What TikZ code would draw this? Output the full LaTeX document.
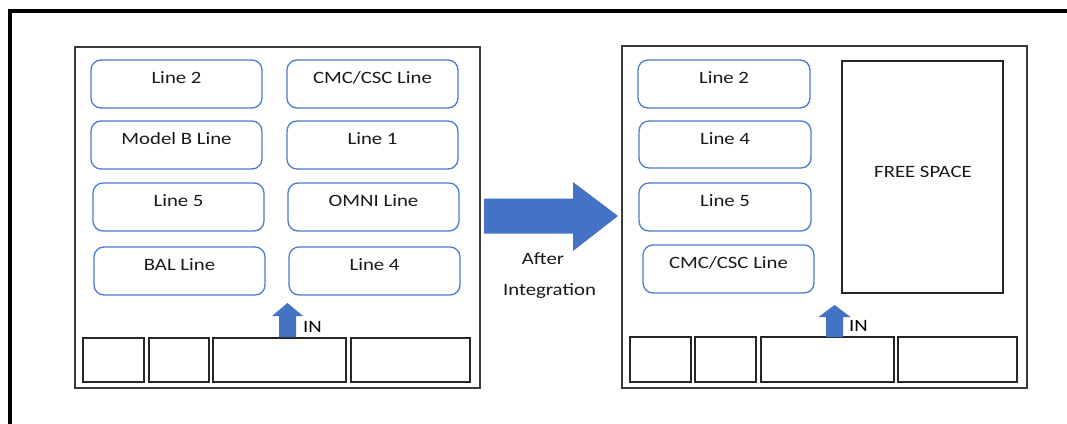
\documentclass[tikz,border=0pt]{standalone}
\usepackage{fontspec}
\newfontfamily\dfont[FakeStretch=1.2]{Carlito}
\usetikzlibrary{calc}
\definecolor{boxblue}{HTML}{4A7BD0}
\definecolor{arrowblue}{HTML}{4472C4}
\definecolor{panelgray}{HTML}{3A3A3A}
\begin{document}
\begin{tikzpicture}[x=1pt,y=-1pt,
  font={\dfont\fontsize{17.3pt}{20pt}\selectfont},
  linebox/.style={draw=boxblue, line width=1.3pt, rounded corners=10pt,
    minimum width=171pt, minimum height=48pt, inner sep=0pt},
  panelbox/.style={draw=panelgray, line width=1.5pt, inner sep=0pt},
  slotbox/.style={draw=black!85, line width=1.5pt, inner sep=0pt, minimum height=44pt},
  lbl/.style={anchor=base, inner sep=0pt, text=black!90},
  blockarrow/.style={fill=arrowblue, draw=none}]
\useasboundingbox (0,0) rectangle (1067,423);
\clip (0,0) rectangle (1067,423);
\fill[white] (0,0) rectangle (1067,423);
% outer frame
\draw[line width=4pt] (9.5,440) -- (9.5,11) -- (1090,11);

% panels
\node[panelbox, minimum width=405pt, minimum height=341pt] (pl) at (277.5,217.5) {};
\node[panelbox, minimum width=405pt, minimum height=342pt] (pr) at (824.5,217) {};

% left panel boxes
\node[linebox] (a1) at (176.5,84) {};
\node[linebox] (a2) at (372.5,84) {};
\node[linebox] (a3) at (176.5,145) {};
\node[linebox] (a4) at (372.5,145) {};
\node[linebox] (a5) at (178.5,207) {};
\node[linebox] (a6) at (373.5,207) {};
\node[linebox] (a7) at (179.5,271) {};
\node[linebox] (a8) at (374.5,271) {};
\node[lbl] (ta1) at ($(a1.north)+(0,24.5)$) {Line 2};
\node[lbl] (ta2) at ($(a2.north)+(0,24.5)$) {CMC/CSC Line};
\node[lbl] (ta3) at ($(a3.north)+(0,24.5)$) {Model B Line};
\node[lbl] (ta4) at ($(a4.north)+(0,24.5)$) {Line 1};
\node[lbl] (ta5) at ($(a5.north)+(0,24.5)$) {Line 5};
\node[lbl] (ta6) at ($(a6.north)+(0,24.5)$) {OMNI Line};
\node[lbl] (ta7) at ($(a7.north)+(0,24.5)$) {BAL Line};
\node[lbl] (ta8) at ($(a8.north)+(0,24.5)$) {Line 4};

% left slots
\node[slotbox, minimum width=61pt] (s1) at (113.5,360) {};
\node[slotbox, minimum width=60pt] (s2) at (179,360) {};
\node[slotbox, minimum width=133pt] (s3) at (279.5,360) {};
\node[slotbox, minimum width=119pt] (s4) at (410.5,360) {};

% left IN arrow
\coordinate (inl) at (287.5,337);
\fill[blockarrow] ($(inl)+(-8.5,0)$) -- ++(0,-21) -- ($(inl)+(-15.5,-21)$) -- ($(inl)+(0,-34)$)
  -- ($(inl)+(15.5,-21)$) -- ($(inl)+(8.5,-21)$) -- ($(inl)+(8.5,0)$) -- cycle;
\node[anchor=base west, inner sep=0pt] (inlt) at (303,332) {IN};

% right panel boxes
\node[linebox, minimum width=172pt] (b1) at (724,84) {};
\node[linebox, minimum width=172pt, minimum height=47pt] (b2) at (725,144.5) {};
\node[linebox, minimum width=172pt] (b3) at (725,207) {};
\node[linebox] (b4) at (728.5,269) {};
\node[lbl] (tb1) at ($(b1.north)+(0,24)$) {Line 2};
\node[lbl] (tb2) at ($(b2.north)+(0,24)$) {Line 4};
\node[lbl] (tb3) at ($(b3.north)+(0,24)$) {Line 5};
\node[lbl] (tb4) at ($(b4.north)+(0,24)$) {CMC/CSC Line};
\node[panelbox, draw=black!85, minimum width=161pt, minimum height=232pt] (free) at (922.5,177) {};
\node[lbl] (tfree) at (923,177) {FREE SPACE};

% right slots
\node[slotbox, minimum width=61pt, minimum height=45pt] (r1) at (660.5,359.5) {};
\node[slotbox, minimum width=61pt, minimum height=45pt] (r2) at (725.5,359.5) {};
\node[slotbox, minimum width=133pt, minimum height=45pt] (r3) at (827.5,359.5) {};
\node[slotbox, minimum width=119pt, minimum height=45pt] (r4) at (957.5,359.5) {};

% right IN arrow
\coordinate (inr) at (834.5,337);
\fill[blockarrow] ($(inr)+(-8.5,0)$) -- ++(0,-20) -- ($(inr)+(-16,-20)$) -- ($(inr)+(0,-32)$)
  -- ($(inr)+(16,-20)$) -- ($(inr)+(8.5,-20)$) -- ($(inr)+(8.5,0)$) -- cycle;
\node[anchor=base west, inner sep=0pt] (inrt) at (849,331) {IN};

% big arrow
\coordinate (ba) at (484,216);
\fill[blockarrow] ($(ba)+(0,-17.5)$) -- ($(ba)+(89,-17.5)$) -- ($(ba)+(89,-34)$) -- ($(ba)+(134,0)$)
  -- ($(ba)+(89,35)$) -- ($(ba)+(89,17.5)$) -- ($(ba)+(0,17.5)$) -- cycle;
\node[lbl] (after) at (543,264) {After};
\node[lbl] (integ) at (549.5,295.5) {Integration};
\end{tikzpicture}
\end{document}
